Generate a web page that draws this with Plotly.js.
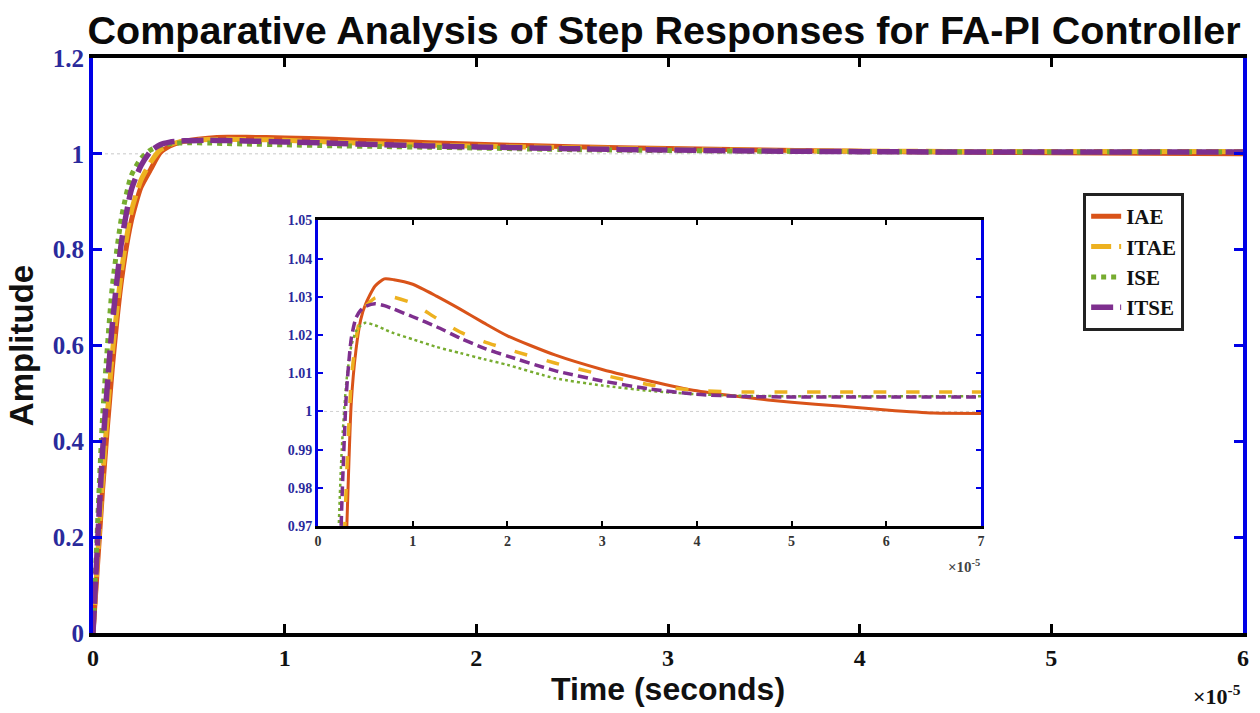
<!DOCTYPE html>
<html>
<head>
<meta charset="utf-8">
<script src="https://cdn.plot.ly/plotly-3.0.1.min.js"></script>
<style>html,body{margin:0;padding:0;background:#fff;}#chart{width:1260px;height:713px;}</style>
</head>
<body>
<div id="chart"></div>
<script>
// time in units of 1e-5 s
const timeVals = [0, 0.05, 0.1, 0.15, 0.2, 0.25, 0.3, 0.35, 0.4, 0.45, 0.5, 0.6, 0.7, 0.8, 1.0, 1.25, 1.5, 1.75, 2.0, 2.5, 3.0, 3.5, 4.0, 4.5, 5.0, 5.5, 6.0, 6.5, 7.0];
const iaeVals  = [0, 0.30, 0.55, 0.74, 0.86, 0.93, 0.967, 1.002, 1.016, 1.024, 1.028, 1.0328, 1.0347, 1.0345, 1.0333, 1.0302, 1.0268, 1.0232, 1.0198, 1.0148, 1.0110, 1.0080, 1.0054, 1.0037, 1.0024, 1.0014, 1.0004, 0.9996, 0.9995];
const itaeVals = [0, 0.32, 0.58, 0.76, 0.88, 0.945, 0.982, 1.008, 1.019, 1.025, 1.0275, 1.0297, 1.0302, 1.0299, 1.0283, 1.0244, 1.0208, 1.0183, 1.0163, 1.0127, 1.0096, 1.0070, 1.0055, 1.0051, 1.0051, 1.0051, 1.0051, 1.0051, 1.0051];
const iseVals  = [0, 0.45, 0.72, 0.87, 0.955, 0.99, 1.008, 1.017, 1.021, 1.0225, 1.0232, 1.0226, 1.0215, 1.0205, 1.0189, 1.0169, 1.0153, 1.0137, 1.0122, 1.0087, 1.0068, 1.0054, 1.0045, 1.0041, 1.0040, 1.0040, 1.0040, 1.0040, 1.0040];
const itseVals = [0, 0.38, 0.64, 0.82, 0.925, 0.975, 1.005, 1.019, 1.0245, 1.0265, 1.0275, 1.0282, 1.0277, 1.0268, 1.0248, 1.0222, 1.0192, 1.0166, 1.0145, 1.0107, 1.0080, 1.0059, 1.0045, 1.0039, 1.0038, 1.0038, 1.0038, 1.0038, 1.0038];
const refT = [0, 7];
const refY = [1, 1];

const seriesNames = ['IAE', 'ITAE', 'ISE', 'ITSE'];
const seriesColors = ['#D95319', '#EDB120', '#77AC30', '#7E2F8E'];

const mainTicksX = [0, 1, 2, 3, 4, 5, 6];
const mainTickTextX = ['0', '1', '2', '3', '4', '5', '6'];
const mainTicksY = [0, 0.2, 0.4, 0.6, 0.8, 1, 1.2];
const mainTickTextY = ['0', '0.2', '0.4', '0.6', '0.8', '1', '1.2'];
const insetTicksX = [0, 1, 2, 3, 4, 5, 6, 7];
const insetTickTextX = ['0', '1', '2', '3', '4', '5', '6', '7'];
const insetTicksY = [0.97, 0.98, 0.99, 1, 1.01, 1.02, 1.03, 1.04, 1.05];
const insetTickTextY = ['0.97', '0.98', '0.99', '1', '1.01', '1.02', '1.03', '1.04', '1.05'];

const allVals = [iaeVals, itaeVals, iseVals, itseVals];
const mainDash = ['solid', '20px,8px', 'dot', '22px,7px'];
const mainWidth = [5, 5, 5, 5.5];
const insetDash = ['solid', '13px,20px', 'dot', '10px,5px'];
const insetWidth = [3, 3.5, 2.5, 3.5];

const traces = [];
traces.push({x: refT, y: refY, xaxis: 'x', yaxis: 'y', mode: 'lines', showlegend: false,
  line: {color: '#c8c8c8', width: 1, dash: 'dot'}, hoverinfo: 'skip'});
traces.push({x: refT, y: refY, xaxis: 'x2', yaxis: 'y2', mode: 'lines', showlegend: false,
  line: {color: '#d0d0d0', width: 1, dash: 'dot'}, hoverinfo: 'skip'});
for (let i = 0; i < 4; i++) {
  traces.push({x: timeVals, y: allVals[i], xaxis: 'x', yaxis: 'y', mode: 'lines', name: seriesNames[i],
    line: {color: seriesColors[i], width: mainWidth[i], dash: mainDash[i], shape: 'spline', smoothing: 0.6}});
}
for (let i = 0; i < 4; i++) {
  traces.push({x: timeVals, y: allVals[i], xaxis: 'x2', yaxis: 'y2', mode: 'lines', name: seriesNames[i], showlegend: false,
    line: {color: seriesColors[i], width: insetWidth[i], dash: insetDash[i], shape: 'spline', smoothing: 0.6}});
}

const blue = '#0000E6';
const tickBlue = '#2a2a9c';
const serifBold = {family: 'Liberation Serif, Times New Roman, serif', weight: 'bold'};
const sansBold = {family: 'Liberation Sans, Arial, sans-serif', weight: 'bold'};

const layout = {
  width: 1260, height: 713,
  margin: {l: 93, r: 17, t: 58, b: 80},
  paper_bgcolor: '#fff', plot_bgcolor: '#fff',
  title: {text: 'Comparative Analysis of Step Responses for FA-PI Controller',
    font: Object.assign({size: 39.5, color: '#0a0a0a'}, sansBold),
    x: 0.527, xanchor: 'center', y: 0.958, yanchor: 'middle'},
  xaxis: {domain: [0, 1], range: [0, 6], tickmode: 'array', tickvals: mainTicksX, ticktext: mainTickTextX,
    ticks: 'inside', ticklen: 9, tickwidth: 3, tickcolor: '#000', showline: true, linecolor: '#000', linewidth: 4,
    mirror: 'ticks', showgrid: false, zeroline: false,
    tickfont: Object.assign({size: 24, color: '#111'}, serifBold),
    title: {text: 'Time (seconds)', font: Object.assign({size: 32, color: '#111'}, sansBold), standoff: 4}},
  yaxis: {domain: [0, 1], range: [0, 1.2], tickmode: 'array', tickvals: mainTicksY, ticktext: mainTickTextY,
    ticks: 'inside', ticklen: 9, tickwidth: 3, tickcolor: blue, showline: true, linecolor: blue, linewidth: 4,
    mirror: 'ticks', showgrid: false, zeroline: false,
    tickfont: Object.assign({size: 25, color: tickBlue}, serifBold),
    title: {text: 'Amplitude', font: Object.assign({size: 33, color: '#111'}, sansBold), standoff: 10}},
  xaxis2: {domain: [0.1957, 0.7722], anchor: 'y2', range: [0, 7], tickmode: 'array', tickvals: insetTicksX, ticktext: insetTickTextX,
    ticks: 'inside', ticklen: 5, tickwidth: 2, tickcolor: '#000', showline: true, linecolor: '#000', linewidth: 3,
    mirror: 'ticks', showgrid: false, zeroline: false,
    tickfont: Object.assign({size: 14, color: '#333'}, serifBold)},
  yaxis2: {domain: [0.186, 0.7174], anchor: 'x2', range: [0.97, 1.05], tickmode: 'array', tickvals: insetTicksY, ticktext: insetTickTextY,
    ticks: 'inside', ticklen: 5, tickwidth: 2, tickcolor: blue, showline: true, linecolor: blue, linewidth: 3,
    mirror: 'ticks', showgrid: false, zeroline: false,
    tickfont: Object.assign({size: 14, color: tickBlue}, serifBold)},
  legend: {x: 0.861, y: 0.765, xanchor: 'left', yanchor: 'top', bgcolor: '#fff', bordercolor: '#222', borderwidth: 3,
    font: Object.assign({size: 21, color: '#111'}, serifBold), tracegroupgap: 0},
  annotations: [
    {xref: 'paper', yref: 'paper', x: 1.0, y: -0.108, xanchor: 'right', yanchor: 'middle', showarrow: false,
      text: '×10<sup>-5</sup>', font: Object.assign({size: 22, color: '#111'}, serifBold)},
    {xref: 'paper', yref: 'paper', x: 0.773, y: 0.136, xanchor: 'right', yanchor: 'top', showarrow: false,
      text: '×10<sup>-5</sup>', font: Object.assign({size: 15, color: '#444'}, serifBold)}
  ],
  showlegend: true
};

Plotly.newPlot('chart', traces, layout, {staticPlot: true, displayModeBar: false});
</script>
</body>
</html>
